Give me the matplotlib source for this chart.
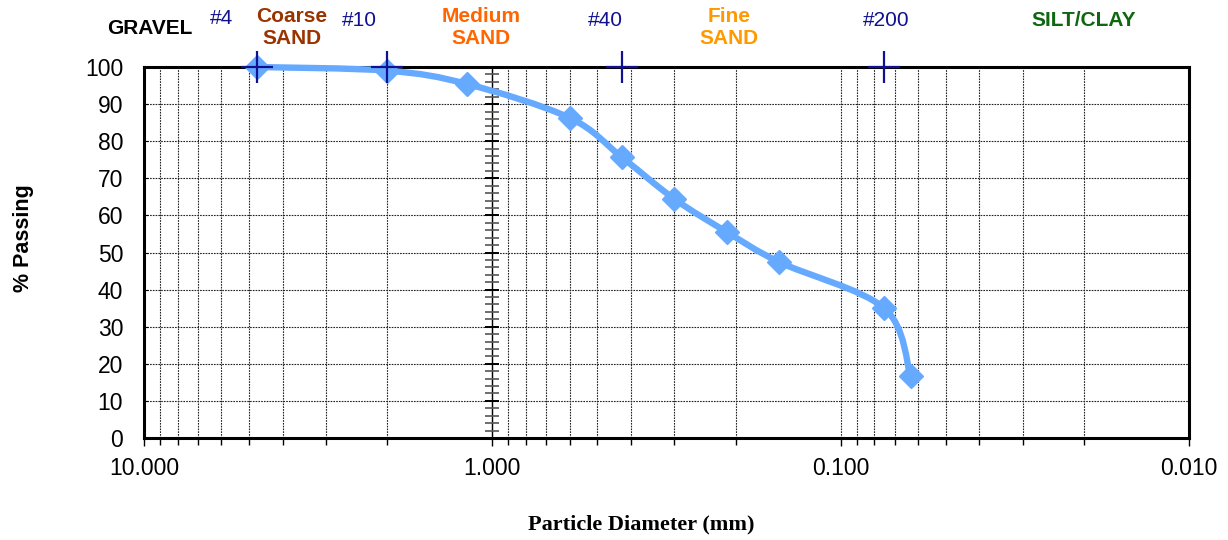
#!/usr/bin/env python3
"""Grain size distribution curve (sieve analysis), Excel-style layout."""

import numpy as np
import matplotlib
matplotlib.use('Agg')
import matplotlib.pyplot as plt
from matplotlib.path import Path
from matplotlib.patches import PathPatch
from matplotlib.ticker import FixedLocator, LogLocator, NullFormatter

# --- data ---
diameter_mm = [4.75, 2.0, 1.18, 0.6, 0.425, 0.3, 0.212, 0.15, 0.075, 0.063]
percent_passing = [100, 99, 95.4, 86.3, 75.7, 64.4, 55.5, 47.4, 35.0, 16.7]

sieve_names = ['#4', '#10', '#40', '#200']
sieve_sizes = [4.75, 2.0, 0.425, 0.075]

x_major = [10, 1, 0.1, 0.01]
x_major_labels = ['10.000', '1.000', '0.100', '0.010']
y_major = list(range(0, 101, 10))

# soil class headings: (text, color, x px, y px, weight)
headings = [
    ('GRAVEL', 'black', 150, 28, 'bold'),
    ('#4', '#101090', 222, 19, 'normal'),
    ('Coarse\nSAND', '#993300', 292, 28, 'bold'),
    ('#10', '#101090', 359, 20, 'normal'),
    ('Medium\nSAND', '#FF6600', 481, 28, 'bold'),
    ('#40', '#101090', 605, 20, 'normal'),
    ('Fine\nSAND', '#FF9900', 729, 28, 'bold'),
    ('#200', '#101090', 886, 20, 'normal'),
    ('SILT/CLAY', '#116611', 1084, 21, 'bold'),
]

W, H = 1228, 540
plt.rcParams['font.family'] = ['Liberation Sans', 'DejaVu Sans']

fig = plt.figure(figsize=(W / 100, H / 100), dpi=100)
ax = fig.add_axes([144 / W, 1 - 438 / H, (1189 - 144) / W, (438 - 67) / H])

ax.set_xscale('log')
ax.set_xlim(10, 0.01)
ax.set_ylim(0, 100)

ax.xaxis.set_major_locator(FixedLocator(x_major))
ax.set_xticklabels(x_major_labels)
ax.xaxis.set_minor_locator(LogLocator(base=10, subs=np.arange(2, 10)))
ax.xaxis.set_minor_formatter(NullFormatter())
ax.set_yticks(y_major)

ax.tick_params(axis='x', which='major', direction='out', length=6, width=1,
               labelsize=16.5, pad=8)
ax.tick_params(axis='x', which='minor', direction='out', length=5, width=1)
ax.tick_params(axis='y', direction='in', length=3, width=0.8, labelsize=16.5, pad=15)

# dotted grid
grid_kw = dict(color='#222222', linestyle=(0, (1.5, 1)), linewidth=0.8)
ax.grid(True, axis='x', which='both', **grid_kw)
ax.grid(True, axis='y', which='major', **grid_kw)
ax.set_axisbelow(True)

for sp in ax.spines.values():
    sp.set_linewidth(2.2)
    sp.set_color('black')

# vertical axis line crossing at 1.0 mm with its tick marks
ax.axvline(1.0, color='black', linewidth=1.0, zorder=1.5)
minor_y = [v for v in range(0, 101, 2) if v % 10]
ax.plot([1.0] * len(minor_y), minor_y, linestyle='none', marker='_', ms=9.5,
        mew=1.2, color='#555555', zorder=1.6, clip_on=False)
ax.plot([1.0] * len(y_major), y_major, linestyle='none', marker='_', ms=10,
        mew=1.4, color='black', zorder=1.6, clip_on=False)

# smooth gradation curve: Catmull-Rom as cubic Bezier segments in (log d, %) space
u = np.log10(diameter_mm)
p = np.array(percent_passing, dtype=float)
pts = np.column_stack([u, p])
ext = np.vstack([pts[0], pts, pts[-1]])
verts = [pts[0]]
codes = [Path.MOVETO]
for i in range(len(pts) - 1):
    p0, p1, p2, p3 = ext[i], ext[i + 1], ext[i + 2], ext[i + 3]
    c1 = p1 + (p2 - p0) / 6.0
    c2 = p2 - (p3 - p1) / 6.0
    verts += [c1, c2, p2]
    codes += [Path.CURVE4] * 3
verts = np.array(verts)
verts[:, 0] = 10 ** verts[:, 0]
curve = PathPatch(Path(verts, codes), facecolor='none', edgecolor='#66AAFF',
                  linewidth=4.6, capstyle='round', joinstyle='round',
                  zorder=3, clip_on=False)
ax.add_patch(curve)
ax.plot(diameter_mm, percent_passing, linestyle='none', marker='D', ms=12.5,
        color='#66AAFF', zorder=4, clip_on=False)

# sieve crosses along the top
ax.plot(sieve_sizes, [100] * len(sieve_sizes), linestyle='none', marker='+',
        ms=23, mew=1.6, color='#101090', zorder=5, clip_on=False)

for text, color, px, py, weight in headings:
    fig.text(px / W, 1 - py / H, text, color=color, fontsize=15,
             fontweight=weight, ha='center', va='center', linespacing=1.2)

fig.text(23 / W, 1 - 238 / H, '% Passing', rotation=90, fontsize=15.5,
         fontweight='bold', ha='center', va='center')
fig.text(641 / W, 1 - 524 / H, 'Particle Diameter (mm)', fontsize=16,
         fontweight='bold', family=['Liberation Serif', 'DejaVu Serif'],
         ha='center', va='center')

fig.savefig('out.png', dpi=100)
